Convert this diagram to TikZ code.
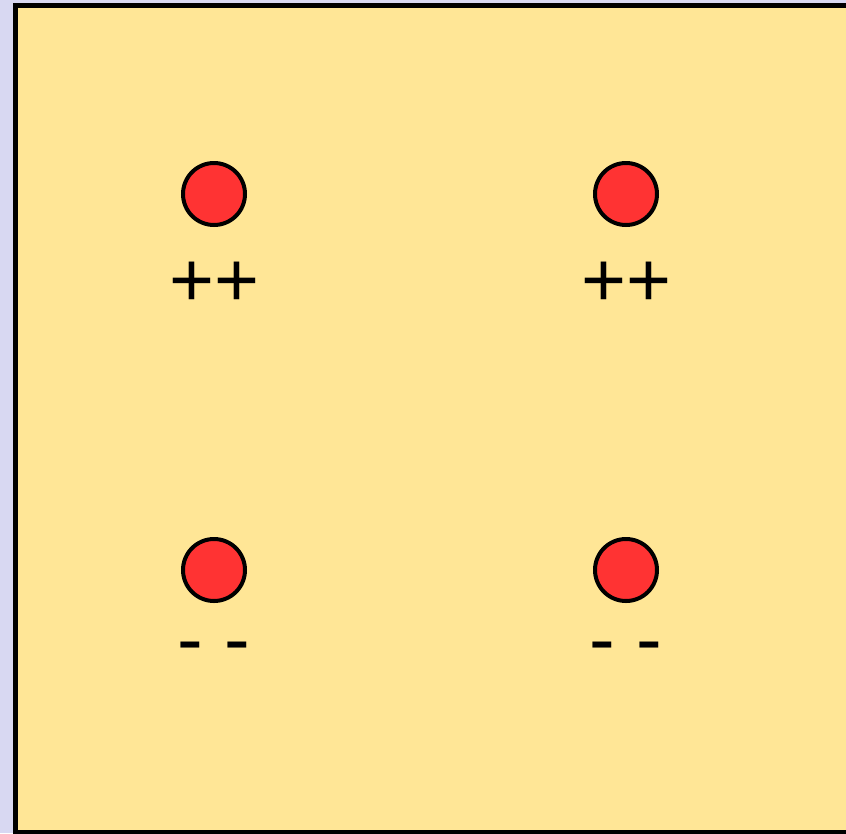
\documentclass[tikz,border=0pt]{standalone}
\usepackage{fontspec}
\setmainfont{Liberation Sans}
\definecolor{pagebg}{RGB}{216,216,242}
\definecolor{panel}{RGB}{255,230,150}
\definecolor{charge}{RGB}{255,51,51}
\begin{document}
\begin{tikzpicture}[x=0.75pt,y=-0.75pt,
  panelbox/.style={draw=black,fill=panel,line width=3.75pt},
  particle/.style={circle,draw=black,fill=charge,line width=3pt,minimum size=46.5pt,inner sep=0pt},
  sign/.style={anchor=base,inner sep=0pt,font=\fontsize{57.75}{60}\selectfont}]
  % page and clipping
  \useasboundingbox (0,0) rectangle (846,833);
  \clip (0,0) rectangle (846,833);
  \fill[pagebg] (0,0) rectangle (846,833);
  % the yellow panel
  \draw[panelbox] (15.5,5.5) rectangle (848.5,832.5);
  % four charged particles
  \node[particle] (p1) at (214,194) {};
  \node[particle] (p2) at (626,194) {};
  \node[particle] (p3) at (214,570) {};
  \node[particle] (p4) at (626,570) {};
  % their charges
  \node[sign] (s1) at (214,306) {++};
  \node[sign] (s2) at (626,306) {++};
  \node[sign] (s3) at (214,665) {- -};
  \node[sign] (s4) at (626,665) {- -};
\end{tikzpicture}
\end{document}
